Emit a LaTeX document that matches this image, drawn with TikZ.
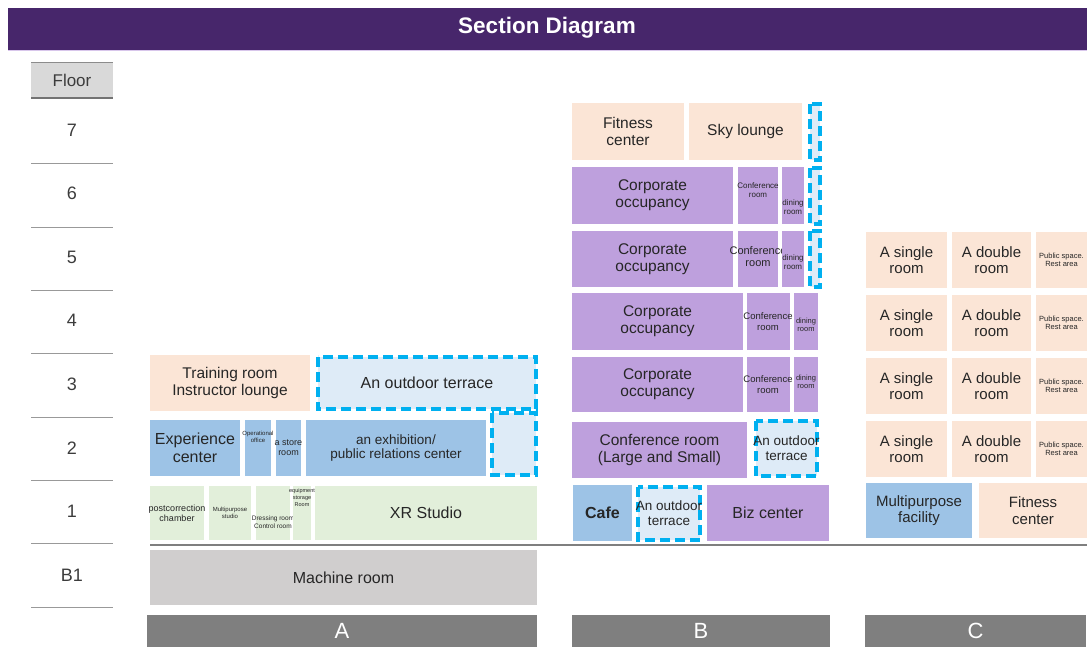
\documentclass[tikz,border=0pt]{standalone}
\usepackage{fontspec}
\setmainfont{Liberation Sans}
\usetikzlibrary{calc}
\definecolor{titlepurple}{RGB}{71,38,107}
\definecolor{peachroom}{RGB}{251,229,214}
\definecolor{blueroom}{RGB}{157,195,230}
\definecolor{purproom}{RGB}{190,160,221}
\definecolor{greenroom}{RGB}{226,239,218}
\definecolor{grayroom}{RGB}{208,206,206}
\definecolor{terrfill}{RGB}{222,235,247}
\definecolor{terrline}{RGB}{0,176,240}
\definecolor{bargray}{RGB}{127,127,127}
\definecolor{txt}{RGB}{38,38,38}
\newcommand{\room}[6]{%
  \path[#1] #3 rectangle #4;
  \node[roomtext,font=\fontsize{#5}{1.1\dimexpr#5pt\relax}\selectfont] (#2) at ($#3!0.5!#4$) {#6};}
\begin{document}
\begin{tikzpicture}[x=1pt,y=-1pt,
	roomtext/.style={text=txt,align=center,inner sep=0pt},
	peach/.style={fill=peachroom},
	blue/.style={fill=blueroom},
	purp/.style={fill=purproom},
	green/.style={fill=greenroom},
	mach/.style={fill=grayroom},
	terrace/.style={fill=terrfill,draw=terrline,line width=3.5pt,dash pattern=on 10pt off 5pt},
	bar/.style={fill=bargray},
	bartext/.style={text=white,font=\fontsize{22}{24}\selectfont},
	floorlbl/.style={text=txt!90,font=\fontsize{18}{20}\selectfont},
	sepline/.style={draw=black!40,line width=0.8pt}]
	\useasboundingbox (0,0) rectangle (1087,647);
	% title
	\path[fill=titlepurple] (8,8) rectangle (1087,50);
	\draw[draw=purproom!60,line width=1pt] (8,51) -- (1087,51);
	\node[text=white,font=\fontsize{22.5}{25}\selectfont\bfseries] (ttl) at (547,28) {Section Diagram};
	% floor column
	\path[fill=black!15] (31,63) rectangle (113,98);
	\draw[draw=black!45,line width=1pt] (31,63) -- (113,63);
	\draw[draw=black!55,line width=1.2pt] (31,98) -- (113,98);
	\node[floorlbl,font=\fontsize{17}{20}\selectfont] (flr) at (72,80) {Floor};
	\foreach \f [count=\i] in {7,6,5,4,3,2,1,B1}
		\node[floorlbl] (fl\i) at (72,{130+63.6*(\i-1)}) {\f};
	\foreach \y in {163,227,290,353,417,480,543,607}
		\draw[sepline] (31,\y) -- (113,\y);
	% ground
	\draw[draw=bargray,line width=2.5pt] (150,545) -- (1087,545);
	% building A
	\room{peach}{aTrain}{(150,355)}{(310,411)}{15.5}{Training room\\Instructor lounge}
	\path[terrace] (492,413) rectangle (536,475);
	\room{terrace}{aTerr}{(318,357)}{(536,409)}{16}{An outdoor terrace}
	\room{blue}{aExp}{(150,420)}{(240,476)}{16}{Experience\\center}
	\path[blue] (245,420) rectangle (271,476);
	\node[roomtext,font=\fontsize{6}{6.5}\selectfont] (aOffice) at (258,437) {Operational\\office};
	\room{blue}{aStore}{(276,420)}{(301,476)}{9}{a store\\room}
	\room{blue}{aExhib}{(306,420)}{(486,476)}{13.5}{an exhibition/\\public relations center}
	\room{green}{aPost}{(150,486)}{(204,540)}{9}{postcorrection\\chamber}
	\room{green}{aMulti}{(209,486)}{(251,540)}{6}{Multipurpose\\studio}
	\path[green] (256,486) rectangle (290,540);
	\node[roomtext,font=\fontsize{6.5}{7.5}\selectfont] (aDress) at (273,522) {Dressing room\\Control room};
	\path[green] (293,486) rectangle (311,540);
	\node[roomtext,font=\fontsize{5.5}{7}\selectfont] (aEquip) at (302,498) {equipment\\storage\\Room};
	\room{green}{aXR}{(315,486)}{(537,540)}{16}{XR Studio}
	\room{mach}{aMach}{(150,550)}{(537,605)}{16}{Machine room}
	% building B
	\room{peach}{bFit}{(572,103)}{(684,160)}{15.5}{Fitness\\center}
	\room{peach}{bSky}{(689,103)}{(802,160)}{15.5}{Sky lounge}
	\foreach \t/\b in {104/160,168/224,231/287}
		\path[terrace] (810,\t) rectangle (820,\b);
	\room{purp}{bCorp6}{(572,167)}{(733,224)}{15.5}{Corporate\\occupancy}
	\path[purp] (738,167) rectangle (778,224);
	\node[roomtext,font=\fontsize{8}{9}\selectfont] (bConf6) at (758,190) {Conference\\room};
	\path[purp] (782,167) rectangle (804,224);
	\node[roomtext,font=\fontsize{8}{9}\selectfont] (bDin6) at (793,207) {dining\\room};
	\room{purp}{bCorp5}{(572,231)}{(733,287)}{15.5}{Corporate\\occupancy}
	\path[purp] (738,231) rectangle (778,287);
	\node[roomtext,font=\fontsize{11}{12}\selectfont] (bConf5) at (758,257) {Conference\\room};
	\path[purp] (782,231) rectangle (804,287);
	\node[roomtext,font=\fontsize{8}{9}\selectfont] (bDin5) at (793,262) {dining\\room};
	\room{purp}{bCorp4}{(572,293)}{(743,350)}{15.5}{Corporate\\occupancy}
	\path[purp] (747,293) rectangle (790,350);
	\node[roomtext,font=\fontsize{9.5}{11}\selectfont] (bConf4) at (768,322) {Conference\\room};
	\path[purp] (794,293) rectangle (818,350);
	\node[roomtext,font=\fontsize{7.5}{8.5}\selectfont] (bDin4) at (806,325) {dining\\room};
	\room{purp}{bCorp3}{(572,357)}{(743,412)}{15.5}{Corporate\\occupancy}
	\path[purp] (747,357) rectangle (790,412);
	\node[roomtext,font=\fontsize{9.5}{11}\selectfont] (bConf3) at (768,385) {Conference\\room};
	\path[purp] (794,357) rectangle (818,412);
	\node[roomtext,font=\fontsize{7.5}{8.5}\selectfont] (bDin3) at (806,382) {dining\\room};
	\room{purp}{bConf2}{(572,422)}{(747,478)}{15.5}{Conference room\\(Large and Small)}
	\room{terrace}{bTerr2}{(756,421)}{(817,476)}{13.5}{An outdoor\\terrace}
	\room{blue}{bCafe}{(573,485)}{(632,541)}{16}{\bfseries Cafe}
	\room{terrace}{bTerr1}{(638,487)}{(700,540)}{13.5}{An outdoor\\terrace}
	\room{purp}{bBiz}{(707,485)}{(829,541)}{16}{Biz center}
	% building C
	\foreach \t/\b [count=\r] in {232/288,295/351,358/414,421/477}{
		\room{peach}{cSingle\r}{(866,\t)}{(947,\b)}{15}{A single\\room}
		\room{peach}{cDouble\r}{(952,\t)}{(1031,\b)}{15}{A double\\room}
		\room{peach}{cPublic\r}{(1036,\t)}{(1087,\b)}{7.5}{Public space.\\Rest area}
	}
	\room{blue}{cMulti}{(866,483)}{(972,538)}{15}{Multipurpose\\facility}
	\room{peach}{cFit}{(979,483)}{(1087,538)}{15}{Fitness\\center}
	% building labels
	\foreach \n/\l/\r in {A/147/537,B/572/830,C/865/1086}{
		\path[bar] (\l,615) rectangle (\r,647);
		\node[bartext] (bar\n) at ({(\l+\r)/2},631) {\n};
	}
\end{tikzpicture}
\end{document}
